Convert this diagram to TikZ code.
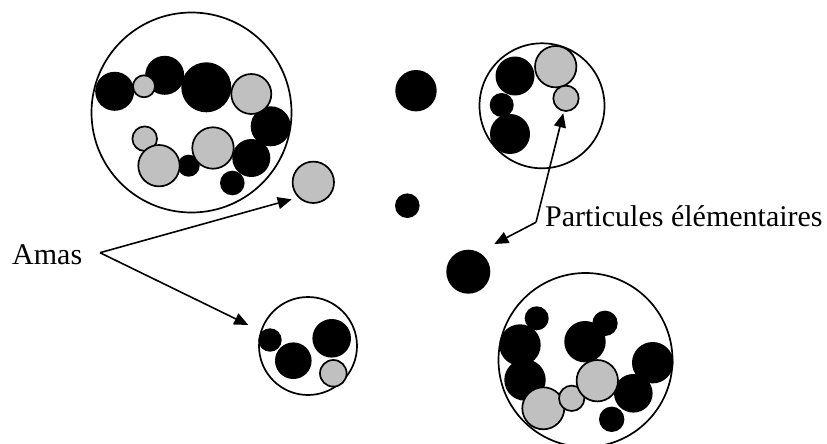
\documentclass[tikz,border=0pt]{standalone}
\usepackage{fontspec}
\setmainfont{Liberation Serif}
\usetikzlibrary{arrows.meta}
\definecolor{partgrey}{RGB}{192,192,192}
\tikzset{
  blk/.style={circle, fill=black, inner sep=0pt, outer sep=0pt},
  gry/.style={circle, fill=partgrey, draw=black, line width=1.7pt, inner sep=0pt, outer sep=0pt},
  clus/.style={circle, draw=black, line width=1.7pt, inner sep=0pt, outer sep=0pt},
  arr/.style={line width=1.6pt, -{Triangle[length=14pt,width=12pt]}},
  lbl/.style={anchor=base west, inner sep=0pt, font=\fontsize{30}{34}\selectfont}
}
\begin{document}
\begin{tikzpicture}[x=1pt,y=-1pt]
\useasboundingbox (0,0) rectangle (827,444);
% clusters (outer circles)
\node[clus, minimum size=200pt] (C1) at (191.5,112.5) {};
\node[clus, minimum size=125pt] (C2) at (542,105.8) {};
\node[clus, minimum size=98pt] (C3) at (308,346) {};
\node[clus, minimum size=174pt] (C4) at (585.5,360) {};
% top-left cluster: black particles
\node[blk, minimum size=39pt] (a1) at (114.7,91.3) {};
\node[blk, minimum size=39pt] (a3) at (164.7,75.3) {};
\node[blk, minimum size=50pt] (a4) at (206.3,87.3) {};
\node[blk, minimum size=40pt] (a6) at (270.7,126.3) {};
\node[blk, minimum size=22pt] (a9) at (188.7,165.7) {};
\node[blk, minimum size=38pt] (a11) at (251.3,158) {};
\node[blk, minimum size=24.6pt] (a12) at (232.3,183) {};
% top-left cluster: grey particles
\node[gry, minimum size=22pt] (a2) at (144,86.3) {};
\node[gry, minimum size=40pt] (a5) at (251.3,94) {};
\node[gry, minimum size=24.6pt] (a7) at (144.7,138.7) {};
\node[gry, minimum size=41.4pt] (a8) at (159,165.7) {};
\node[gry, minimum size=41.4pt] (a10) at (213,148) {};
% lone particles
\node[gry, minimum size=41.4pt] (g1) at (313.3,182.3) {};
\node[blk, minimum size=41.4pt] (b1) at (416,90.7) {};
\node[blk, minimum size=24.6pt] (b2) at (407.3,205.7) {};
\node[blk, minimum size=44pt] (b3) at (468.3,271.7) {};
% top-right cluster
\node[blk, minimum size=39pt] (c1) at (515,76) {};
\node[blk, minimum size=24pt] (c4) at (501.7,105) {};
\node[blk, minimum size=40pt] (c5) at (510,134) {};
\node[gry, minimum size=41.4pt] (c2) at (555.7,66.7) {};
\node[gry, minimum size=25.4pt] (c3) at (566,98.3) {};
% bottom-left cluster
\node[blk, minimum size=23.4pt] (d1) at (270,340) {};
\node[blk, minimum size=36.6pt] (d2) at (293.3,360.7) {};
\node[blk, minimum size=38.6pt] (d3) at (331.7,338.3) {};
\node[gry, minimum size=26.6pt] (d4) at (333.3,373.3) {};
% bottom-right cluster
\node[blk, minimum size=24pt] (e1) at (536.7,318.3) {};
\node[blk, minimum size=41.4pt] (e2) at (520,345) {};
\node[blk, minimum size=41.4pt] (e3) at (525,380) {};
\node[blk, minimum size=41.4pt] (e6) at (585,341.7) {};
\node[blk, minimum size=25.4pt] (e7) at (605,323.3) {};
\node[blk, minimum size=41.4pt] (e9) at (652.7,362.7) {};
\node[blk, minimum size=38.6pt] (e10) at (633.3,393.3) {};
\node[blk, minimum size=25.4pt] (e11) at (611.7,419.3) {};
\node[gry, minimum size=42pt] (e4) at (543.3,408.3) {};
\node[gry, minimum size=25.4pt] (e5) at (571.7,398.3) {};
\node[gry, minimum size=41.4pt] (e8) at (597.3,380.7) {};
% labels
\node[lbl] (amas) at (12,264) {Amas};
\node[lbl] (part) at (545,226.7) {Particules élémentaires};
% arrow coordinates
\coordinate (amasfork) at (100,252.7);
\coordinate (tipA) at (291.7,199.3);
\coordinate (tipB) at (248.3,325);
\coordinate (partfork) at (536,222.3);
\coordinate (tipC) at (563.3,113.3);
\coordinate (tipD) at (494.3,244);
\draw[arr] (amasfork) -- (tipA);
\draw[arr] (amasfork) -- (tipB);
\draw[arr] (partfork) -- (tipC);
\draw[arr] (partfork) -- (tipD);
\end{tikzpicture}
\end{document}
